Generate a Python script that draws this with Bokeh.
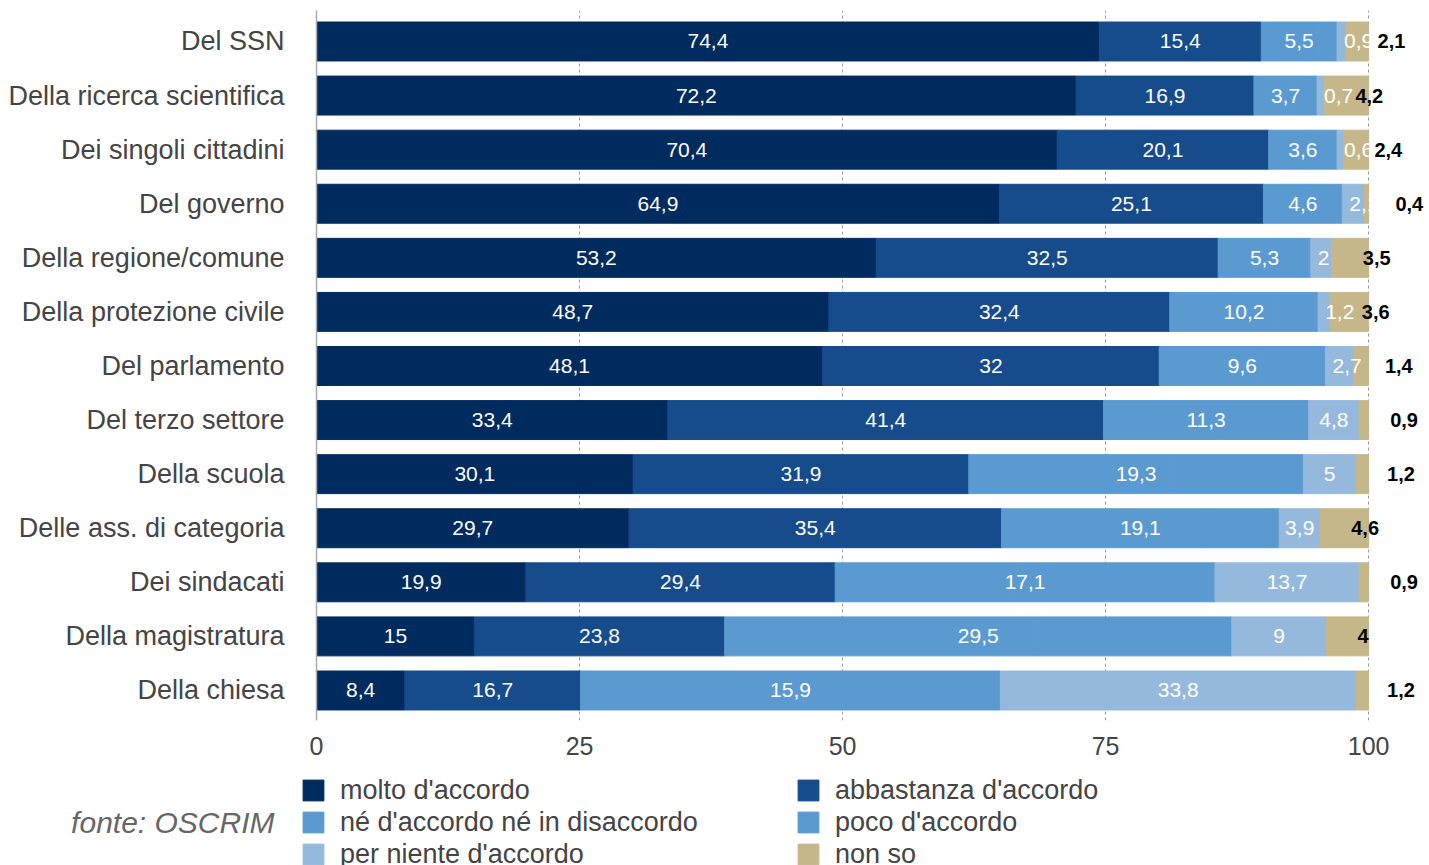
from bokeh.plotting import figure
from bokeh.layouts import column
from bokeh.models import Range1d, FixedTicker, Legend, LegendItem, ColumnDataSource
from bokeh.core.properties import value
from bokeh.embed import file_html
from bokeh.resources import INLINE

categories = ["Del SSN", "Della ricerca scientifica", "Dei singoli cittadini", "Del governo",
              "Della regione/comune", "Della protezione civile", "Del parlamento",
              "Del terzo settore", "Della scuola", "Delle ass. di categoria", "Dei sindacati",
              "Della magistratura", "Della chiesa"]
molto = [74.4, 72.2, 70.4, 64.9, 53.2, 48.7, 48.1, 33.4, 30.1, 29.7, 19.9, 15, 8.4]
abbastanza = [15.4, 16.9, 20.1, 25.1, 32.5, 32.4, 32, 41.4, 31.9, 35.4, 29.4, 23.8, 16.7]
ne_accordo = [5.5, 3.7, 3.6, 4.6, 5.3, 10.2, 9.6, 11.3, 19.3, 19.1, 17.1, 29.5, 15.9]
poco = [1.7, 2.3, 2.9, 2.9, 3.5, 3.9, 6.2, 8.2, 12.5, 7.3, 19.0, 18.7, 24.0]
per_niente = [0.9, 0.7, 0.6, 2.1, 2, 1.2, 2.7, 4.8, 5, 3.9, 13.7, 9, 33.8]
non_so = [2.1, 4.2, 2.4, 0.4, 3.5, 3.6, 1.4, 0.9, 1.2, 4.6, 0.9, 4, 1.2]

series_names = ["molto d'accordo", "abbastanza d'accordo", "né d'accordo né in disaccordo",
                "poco d'accordo", "per niente d'accordo", "non so"]
colors = ["#002b5f", "#164b8c", "#5a9ad1", "#5a9ad1", "#95b9dc", "#c6b78a"]
x_ticks = [0, 25, 50, 75, 100]
source_note = "fonte: OSCRIM"

FONT = "Liberation Sans"
n = len(categories)
ypos = [n - 1 - i for i in range(n)]


def fmt(v):
    return f"{v:g}".replace(".", ",")


data = {"y": ypos, "cat": categories}
keys = ["s0", "s1", "s2", "s3", "s4", "s5"]
for k, arr in zip(keys, [molto, abbastanza, ne_accordo, poco, per_niente, non_so]):
    data[k] = arr
source = ColumnDataSource(data)

# ---------------- main chart ----------------
p = figure(width=1429, height=770, x_range=Range1d(0, 105.5), y_range=Range1d(-0.555, 12.573),
           output_backend="svg", toolbar_location=None,
           min_border_left=316, min_border_right=3, min_border_top=10, min_border_bottom=50)
p.frame_align = False
p.outline_line_color = None
p.background_fill_color = "white"

p.hbar_stack(keys, y="y", height=0.72, color=colors, line_width=1, source=source)

p.xaxis.ticker = FixedTicker(ticks=x_ticks)
p.xaxis.major_label_overrides = {t: str(t) for t in x_ticks}
p.xaxis.axis_line_color = None
p.xaxis.major_tick_line_color = None
p.xaxis.minor_tick_line_color = None
p.xaxis.major_label_text_font = FONT
p.xaxis.major_label_text_font_size = "25px"
p.xaxis.major_label_text_color = "#444444"
p.xaxis.major_label_standoff = 10

p.yaxis.ticker = FixedTicker(ticks=ypos)
p.yaxis.major_label_overrides = {y: c for y, c in zip(ypos, categories)}
p.yaxis.axis_line_color = "#aaaaaa"
p.yaxis.axis_line_width = 1.5
p.yaxis.major_tick_line_color = None
p.yaxis.minor_tick_line_color = None
p.yaxis.major_label_text_font = FONT
p.yaxis.major_label_text_font_size = "27px"
p.yaxis.major_label_text_color = "#444444"
p.yaxis.major_label_standoff = 26

p.ygrid.grid_line_color = None
p.xgrid.grid_line_color = "#999999"
p.xgrid.grid_line_dash = "3 3"
p.xgrid.grid_line_width = 1

lab_x, lab_y, lab_t = [], [], []
pn_cx, pn_cy, pn_ct = [], [], []
pn_lx, pn_ly, pn_lt = [], [], []
ns_x, ns_y, ns_t = [], [], []
for i in range(n):
    a, b, c, d, e, f = molto[i], abbastanza[i], ne_accordo[i], poco[i], per_niente[i], non_so[i]
    lab_x += [a / 2, a + b / 2, a + b + (c + d) / 2]
    lab_y += [ypos[i]] * 3
    lab_t += [fmt(a), fmt(b), fmt(c)]
    start_pn = a + b + c + d
    if e >= 3:
        pn_cx.append(start_pn + e / 2); pn_cy.append(ypos[i]); pn_ct.append(fmt(e))
    else:
        pn_lx.append(start_pn); pn_ly.append(ypos[i]); pn_lt.append(fmt(e))
    ns_x.append(start_pn + e); ns_y.append(ypos[i]); ns_t.append(fmt(f))

common = dict(text_font=value(FONT), text_font_size="21px", text_baseline="middle")
p.text(x=lab_x, y=lab_y, text=lab_t, text_color="white", text_align="center", **common)
p.text(x=pn_cx, y=pn_cy, text=pn_ct, text_color="white", text_align="center", **common)
p.text(x=pn_lx, y=pn_ly, text=pn_lt, text_color="white", text_align="left", x_offset=7, **common)
p.text(x=ns_x, y=ns_y, text=ns_t, text_color="#000000", text_align="left", x_offset=31,
       text_font=value(FONT), text_font_size="20px", text_baseline="middle", text_font_style="bold")

# ---------------- legend strip ----------------
H2 = 95
q = figure(width=1429, height=H2, x_range=Range1d(0, 1429), y_range=Range1d(H2, 0),
           output_backend="svg", toolbar_location=None, min_border=0,
           x_axis_location=None, y_axis_location=None)
q.frame_align = False
q.outline_line_color = None
q.xgrid.grid_line_color = None
q.ygrid.grid_line_color = None

# hidden copies of the stacked bars, only used as legend swatches
swatches = q.hbar_stack(keys, y="y", height=0.72, color=colors, source=source, visible=False)
items = [LegendItem(label=name, renderers=[r]) for name, r in zip(series_names, swatches)]
legend = Legend(items=items, location=(300, -5), orientation="horizontal", ncols=2,
                glyph_width=26, glyph_height=26, label_standoff=14, label_width=455,
                label_height=32, spacing=0, padding=0, margin=0, border_line_color=None,
                background_fill_alpha=0, inactive_fill_alpha=0,
                label_text_font=FONT, label_text_font_size="27px", label_text_color="#444444")
q.add_layout(legend)

q.text(x=[274], y=[52], text=[source_note], text_font=value(FONT), text_font_style="italic",
       text_font_size="30px", text_color="#666666", text_align="right", text_baseline="middle")

open("out.html", "w").write(file_html(column(p, q, spacing=0), INLINE))
